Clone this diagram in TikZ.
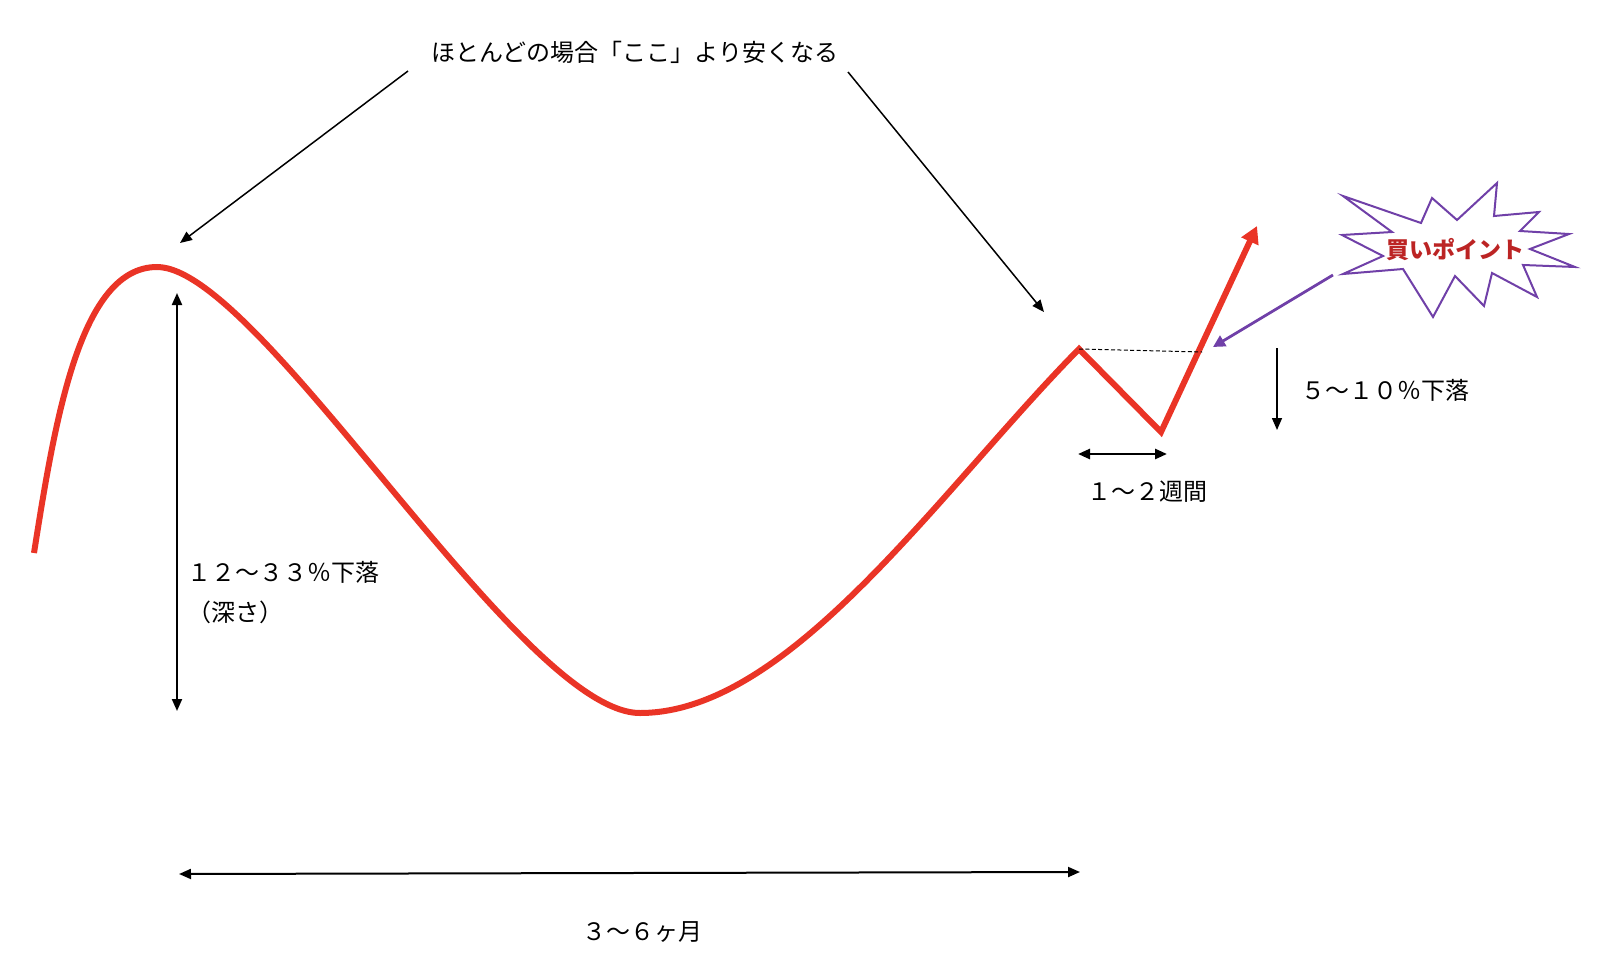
\documentclass[tikz,border=0pt]{standalone}
\usepackage{fontspec}
\setmainfont{Noto Sans CJK JP}
\usetikzlibrary{arrows.meta, positioning, calc}
\usepackage{xcolor}
\definecolor{CurveRed}{RGB}{234,52,38}
\definecolor{BuyLine} {RGB}{112,64,168}
\definecolor{BuyText} {RGB}{188,36,36}
\tikzset{
  % Red price curve
  price/.style={draw=CurveRed, line width=3pt, line join=miter, line cap=butt},
  % Thin black pointer arrows
  ptr/.style={-{Triangle[length=6pt, width=5pt]}, line width=0.75pt},
  % Double-headed span arrows
  dimarr/.style={{Triangle[length=6pt, width=5pt]}-{Triangle[length=6pt, width=5pt]}, line width=#1},
  dimarr/.default=1pt,
  lbl/.style={font=\fontsize{12}{20}\selectfont, inner sep=0pt, align=left},
  % Starburst outline and its text
  burst/.style={draw=BuyLine, line width=1pt, fill=white, line join=miter},
  buy/.style={font=\fontsize{11.5}{14}\selectfont\bfseries, text=BuyText, inner sep=0pt}
}

\begin{document}
\begin{tikzpicture}[x=0.5pt, y=-0.5pt]

  \useasboundingbox (0,0) rectangle (1605,968);

  %% ── Price curve ───────────────────────────────────────────────────────────
  \coordinate (c0)  at (34,553);
  \coordinate (pk1) at (157,267);
  \coordinate (tr)  at (640,713);
  \coordinate (pk2) at (1079,349);
  \coordinate (dip) at (1161,432);
  \coordinate (tip) at (1257,226);

  \draw[price, -{Triangle[length=8.5pt, width=9pt]}]
    (c0) .. controls (55,420) and (80,267) .. (pk1)
         .. controls (260,267) and (520,713) .. (tr)
         .. controls (790,713) and (940,490) .. (pk2)
         -- (dip) -- (tip);

  %% ── Top note ──────────────────────────────────────────────────────────────
  \node[lbl] (note) at (635,52) {ほとんどの場合「ここ」より安くなる};
  \coordinate (noteL) at (408,71);
  \coordinate (noteR) at (848,72);
  \coordinate (pk1a)  at (180,243);
  \coordinate (pk2a)  at (1044,312);
  \draw[ptr] (noteL) -- (pk1a);
  \draw[ptr] (noteR) -- (pk2a);

  %% ── Depth ─────────────────────────────────────────────────────────────────
  \coordinate (dTop) at (177,293);
  \coordinate (dBot) at (177,711);
  \draw[dimarr] (dTop) -- (dBot);
  \node[lbl, anchor=north west] (depth) at (187,561)
    {１２～３３％下落\\（深さ）};

  %% ── Duration ──────────────────────────────────────────────────────────────
  \coordinate (wL) at (179,874);
  \coordinate (wR) at (1080,872);
  \draw[dimarr] (wL) -- (wR);
  \node[lbl] (months) at (642,932) {３～６ヶ月};

  %% ── Handle ────────────────────────────────────────────────────────────────
  \coordinate (hL) at (1078,454);
  \coordinate (hR) at (1167,454);
  \draw[dimarr=1.3pt] (hL) -- (hR);
  \node[lbl] (weeks) at (1147,492) {１～２週間};

  \coordinate (brk) at (1202,352);
  \draw[line width=0.5pt, dash pattern=on 2pt off 1.2pt] (pk2) -- (brk);

  \coordinate (hTop) at (1277,348);
  \coordinate (hBot) at (1277,430);
  \draw[ptr] (hTop) -- (hBot);
  \node[lbl, anchor=west] (drop) at (1301,390) {５～１０％下落};

  %% ── Buy point ─────────────────────────────────────────────────────────────
  \draw[burst] (1342,235) -- (1392,232) -- (1343,196) -- (1421,223)
    -- (1432,198) -- (1457,220) -- (1497,183) -- (1494,216)
    -- (1539,212) -- (1520,231) -- (1569,234) -- (1530,249)
    -- (1575,267) -- (1523,265) -- (1537,297) -- (1492,273)
    -- (1484,306) -- (1455,276) -- (1433,317) -- (1403,269)
    -- (1343,274) -- (1383,256) -- cycle;
  \node[buy] (buypt) at (1455,250) {買いポイント};

  \coordinate (bFrom) at (1333,275);
  \coordinate (bTo)   at (1213,347);
  \draw[draw=BuyLine, line width=1.4pt, -{Triangle[length=6pt, width=6pt]}]
    (bFrom) -- (bTo);

\end{tikzpicture}
\end{document}
